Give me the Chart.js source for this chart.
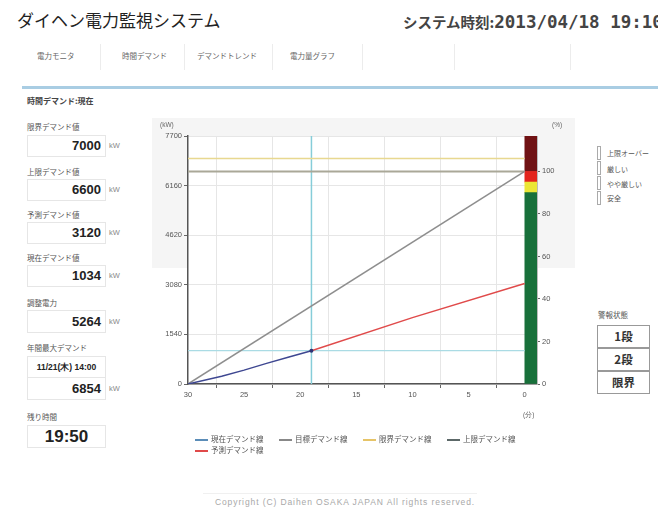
<!DOCTYPE html>
<html lang="ja">
<head>
<meta charset="utf-8">
<script src="https://cdn.jsdelivr.net/npm/chart.js@4.4.1/dist/chart.umd.min.js"></script>
<style>
  html, body { margin: 0; padding: 0; background: #fff; }
  body { width: 658px; height: 507px; overflow: hidden; position: relative;
         font-family: "Noto Sans CJK JP", "Noto Sans", sans-serif; color: #333; }
  .abs { position: absolute; white-space: nowrap; }
  .title { left: 17px; top: 8px; font-size: 17px; color: #222; line-height: 24px; }
  .clock { left: 403px; top: 10px; font-size: 14.5px; font-weight: bold; color: #444; line-height: 24px; }
  .clock b { font-family: "DejaVu Sans Mono", monospace; font-size: 17.5px; }
  .tab { top: 50px; font-size: 7.5px; color: #666; line-height: 12px; }
  .sep { top: 44px; width: 1px; height: 26px; background: #ececec; }
  .bluebar { left: 22px; top: 86px; width: 636px; height: 3px; background: #a9cde3; }
  .subtitle { left: 27px; top: 95px; font-size: 8px; font-weight: bold; color: #444; line-height: 11px; }
  .lbl { left: 27px; font-size: 7.5px; color: #555; line-height: 10px; }
  .box { left: 27px; width: 79px; border: 1px solid #e6e6e6; box-sizing: border-box;
         text-align: right; padding-right: 4px; font-family: "Liberation Sans", Arial, sans-serif;
         font-weight: bold; font-size: 13px; color: #222; }
  .unit { left: 109px; font-size: 7.5px; color: #888; font-family: "Liberation Sans", sans-serif; }
  .axisnote { font-size: 6.5px; color: #666; font-family: "Liberation Sans", sans-serif; }
  .graybg { left: 152px; top: 118px; width: 423px; height: 150px; background: #f5f5f5; }
  #wrap { position: absolute; left: 150px; top: 112px; width: 430px; height: 310px; }
  #legend { left: 195px; top: 433px; width: 340px; white-space: normal; font-size: 7.5px; color: #555; line-height: 11px; }
  #legend span.item { display: inline-block; width: 84px; }
  #legend i { display: inline-block; width: 13px; height: 2px; vertical-align: middle; margin-right: 3px; }
  .lvl { left: 597px; width: 4px; height: 14px; border: 1px solid #aaa; box-sizing: border-box; background: #fff; }
  .lvltxt { left: 607px; font-size: 7px; color: #555; line-height: 10px; }
  .warn { left: 597px; width: 53px; height: 23px; border: 1px solid #999; box-sizing: border-box;
          text-align: center; font-size: 11.5px; font-weight: bold; line-height: 21px; color: #333; }
  .foot { left: 0; width: 690px; top: 497px; text-align: center; font-family: "Liberation Sans", sans-serif;
          font-size: 8.5px; color: #a8a8a8; letter-spacing: 0.9px; }
</style>
</head>
<body>
<div class="abs title">ダイヘン電力監視システム</div>
<div class="abs clock">システム時刻:<b>2013/04/18 19:10</b></div>

<div class="abs tab" style="left:37px">電力モニタ</div>
<div class="abs tab" style="left:122px">時間デマンド</div>
<div class="abs tab" style="left:197px">デマンドトレンド</div>
<div class="abs tab" style="left:290px">電力量グラフ</div>
<div class="abs sep" style="left:100px"></div>
<div class="abs sep" style="left:184px"></div>
<div class="abs sep" style="left:272px"></div>
<div class="abs sep" style="left:362px"></div>
<div class="abs sep" style="left:454px"></div>
<div class="abs sep" style="left:570px"></div>
<div class="abs bluebar"></div>
<div class="abs subtitle">時間デマンド:現在</div>

<!-- 左パネル -->
<div class="abs lbl" style="top:122px">限界デマンド値</div>
<div class="abs box" style="top:135px;height:22px;line-height:20px">7000</div>
<div class="abs unit" style="top:141px">kW</div>

<div class="abs lbl" style="top:167px">上限デマンド値</div>
<div class="abs box" style="top:179px;height:22px;line-height:20px">6600</div>
<div class="abs unit" style="top:185px">kW</div>

<div class="abs lbl" style="top:210px">予測デマンド値</div>
<div class="abs box" style="top:222px;height:22px;line-height:20px">3120</div>
<div class="abs unit" style="top:228px">kW</div>

<div class="abs lbl" style="top:253px">現在デマンド値</div>
<div class="abs box" style="top:265px;height:22px;line-height:20px">1034</div>
<div class="abs unit" style="top:271px">kW</div>

<div class="abs lbl" style="top:298px">調整電力</div>
<div class="abs box" style="top:310px;height:23px;line-height:21px">5264</div>
<div class="abs unit" style="top:317px">kW</div>

<div class="abs lbl" style="top:343px">年間最大デマンド</div>
<div class="abs box" style="top:356px;height:22px;line-height:20px;text-align:center;padding:0;font-size:8.5px">11/21(木) 14:00</div>
<div class="abs box" style="top:377px;height:23px;line-height:21px">6854</div>
<div class="abs unit" style="top:384px">kW</div>

<div class="abs lbl" style="top:412px">残り時間</div>
<div class="abs box" style="top:425px;height:23px;line-height:21px;text-align:center;padding:0;font-size:17px">19:50</div>

<!-- グラフ -->
<div class="abs graybg"></div>
<div id="wrap"><canvas id="demandChart" width="430" height="310"></canvas></div>
<div class="abs axisnote" style="left:160px;top:121px">(kW)</div>
<div class="abs axisnote" style="left:552px;top:121px">(%)</div>
<div class="abs axisnote" style="left:523px;top:411px">(分)</div>
<div class="abs" id="legend"></div>

<!-- 右側 -->
<div class="abs lvl" style="top:146px"></div>
<div class="abs lvl" style="top:161px"></div>
<div class="abs lvl" style="top:176px"></div>
<div class="abs lvl" style="top:191px"></div>
<div class="abs lvltxt" style="left:607px;top:148px">上限オーバー</div>
<div class="abs lvltxt" style="top:164px">厳しい</div>
<div class="abs lvltxt" style="top:179px">やや厳しい</div>
<div class="abs lvltxt" style="top:193px">安全</div>

<div class="abs lbl" style="left:598px;top:310px">警報状態</div>
<div class="abs warn" style="top:325px">1段</div>
<div class="abs warn" style="top:348px">2段</div>
<div class="abs warn" style="top:371px">限界</div>

<div class="abs" style="left:203px;top:493px;width:274px;height:1px;background:#f0f0f0"></div>
<div class="abs foot">Copyright (C) Daihen OSAKA JAPAN All rights reserved.</div>

<script>
// 横軸は残り時間(分)、縦軸は kW と 上限値に対する %
const xTicks = [30, 25, 20, 15, 10, 5, 0];
const yTicks = [0, 1540, 3080, 4620, 6160, 7700];
const pctTicks = [0, 20, 40, 60, 80, 100];

// 現在デマンド線(実績)
const currentMin = [30, 27, 25, 23, 21, 19];
const currentKw = [0, 240, 430, 640, 840, 1034];
// 予測デマンド線
const forecastMin = [19, 10, 0];
const forecastKw = [1034, 2060, 3120];
// 目標デマンド線
const targetMin = [30, 0];
const targetKw = [0, 6600];

const limitKw = 7000;   // 限界デマンド値
const upperKw = 6600;   // 上限デマンド値
const nowMin = 19;      // 現在位置(十字線)
const nowKw = 1034;

// 右のレベルバー(%)
const levelNames = ['安全', 'やや厳しい', '厳しい', '上限オーバー'];
const levelFrom = [0, 90, 95, 100];
const levelTo = [90, 95, 100, 116.67];
const levelColors = ['#18703a', '#ece636', '#e3241c', '#701214'];

const pctMax = yTicks[yTicks.length - 1] / upperKw * 100;
const barX = -0.55;

function pts(xs, ys) {
    return xs.map((x, i) => ({ x: x, y: ys[i] }));
}

const lineBase = { type: 'line', yAxisID: 'y', pointRadius: 0, borderWidth: 1.5, tension: 0 };

const datasets = [
    Object.assign({}, lineBase, {
        label: '現在デマンド線', data: pts(currentMin, currentKw),
        borderColor: '#3e4791', legendColor: '#5b8db8', order: 1,
        pointRadius: ctx => ctx.dataIndex === currentKw.length - 1 ? 2 : 0,
        pointBackgroundColor: '#2e3575', pointBorderWidth: 0
    }),
    Object.assign({}, lineBase, {
        label: '目標デマンド線', data: pts(targetMin, targetKw),
        borderColor: '#8e8e8e', legendColor: '#888', order: 3
    }),
    Object.assign({}, lineBase, {
        label: '限界デマンド線', data: pts([30, 0], [limitKw, limitKw]),
        borderColor: '#e8d890', legendColor: '#e6c468', order: 4
    }),
    Object.assign({}, lineBase, {
        label: '上限デマンド線', data: pts([30, 0], [upperKw, upperKw]),
        borderColor: '#aaa898', legendColor: '#5c6868', borderWidth: 2, order: 4
    }),
    Object.assign({}, lineBase, {
        label: '予測デマンド線', data: pts(forecastMin, forecastKw),
        borderColor: '#e04a4a', legendColor: '#e04a4a', order: 2
    }),
    // 十字線(凡例なし)
    Object.assign({}, lineBase, {
        data: pts([nowMin, nowMin], [0, yTicks[yTicks.length - 1]]),
        borderColor: '#86cdd9', noLegend: true, order: 5
    }),
    Object.assign({}, lineBase, {
        data: pts([30, 0], [nowKw, nowKw]),
        borderColor: '#aadbe4', borderWidth: 1.2, noLegend: true, order: 5
    })
];

levelNames.forEach((name, i) => {
    datasets.push({
        type: 'bar', label: name, yAxisID: 'y2', noLegend: true,
        data: [{ x: barX, y: [levelFrom[i], levelTo[i]] }],
        backgroundColor: levelColors[i], borderWidth: 0,
        barThickness: 12, grouped: false, order: 6
    });
});

// プロット領域だけ白くする
const whiteArea = {
    id: 'whiteArea',
    beforeDraw(chart) {
        const a = chart.chartArea, c = chart.ctx;
        c.save();
        c.fillStyle = '#fff';
        c.fillRect(a.left, a.top, a.right - a.left, a.bottom - a.top);
        c.restore();
    }
};

const tickFont = { family: 'Liberation Sans', size: 7.5 };
const plain = v => String(v);

new Chart(document.getElementById('demandChart'), {
    type: 'line',
    data: { datasets: datasets },
    plugins: [whiteArea],
    options: {
        responsive: false,
        animation: false,
        layout: { padding: { top: 24, left: 0, right: 0, bottom: 0 } },
        plugins: { legend: { display: false }, tooltip: { enabled: false } },
        scales: {
            x: {
                type: 'linear', min: -1.1, max: 30, reverse: true, offset: false,
                afterBuildTicks: s => { s.ticks = xTicks.map(v => ({ value: v })); },
                afterFit: s => { s.height = 38; },
                grid: { color: '#e6e6e6', tickColor: '#666', tickLength: 4 },
                border: { color: '#555', width: 1.5 },
                ticks: { font: tickFont, color: '#555', padding: 2, maxRotation: 0, callback: plain }
            },
            y: {
                position: 'left', min: 0, max: 7700,
                afterBuildTicks: s => { s.ticks = yTicks.map(v => ({ value: v })); },
                afterFit: s => { s.width = 38; },
                grid: { color: '#e6e6e6', tickColor: '#666', tickLength: 4 },
                border: { color: '#555', width: 1.5 },
                ticks: { font: tickFont, color: '#555', padding: 2, callback: plain }
            },
            y2: {
                position: 'right', min: 0, max: pctMax,
                afterBuildTicks: s => { s.ticks = pctTicks.map(v => ({ value: v })); },
                afterFit: s => { s.width = 43; },
                grid: { drawOnChartArea: false, tickColor: '#666', tickLength: 3 },
                border: { color: '#bbb', width: 1 },
                ticks: { font: tickFont, color: '#555', padding: 2, callback: plain }
            }
        }
    }
});

// 凡例(HTML)
const legendBox = document.getElementById('legend');
datasets.filter(d => !d.noLegend).forEach(d => {
    const item = document.createElement('span');
    item.className = 'item';
    item.innerHTML = '<i style="background:' + d.legendColor + '"></i>' + d.label;
    legendBox.appendChild(item);
});
</script>
</body>
</html>
